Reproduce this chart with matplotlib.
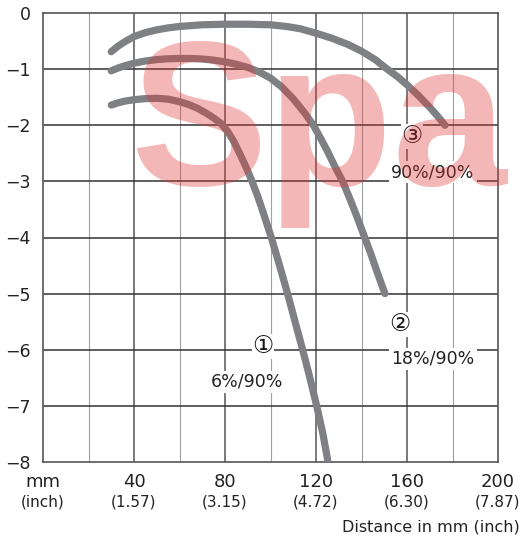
import matplotlib
matplotlib.use("Agg")
import matplotlib.pyplot as plt

# curve readings, distance in mm vs. value
c1_x = [30, 33, 36, 40, 45, 50, 55, 60, 64, 68, 72, 75, 78, 81, 84, 87, 89.5, 92,
        94.5, 97, 100.5, 104, 107.5, 111, 114, 117, 120.3, 123, 125.2]
c1_y = [-1.64, -1.60, -1.57, -1.545, -1.525, -1.52, -1.535, -1.58, -1.63, -1.70,
        -1.79, -1.87, -1.96, -2.10, -2.30, -2.55, -2.77, -3.01, -3.28, -3.58, -4.02,
        -4.5, -5.0, -5.53, -5.98, -6.45, -7.0, -7.49, -7.98]

c2_x = [30, 33, 36, 40, 45, 50, 55, 60, 65, 70, 75, 80, 85, 90, 95, 100, 105, 110,
        115, 119, 122, 125, 128, 131.7, 135, 138, 141.5, 144, 147, 150.3]
c2_y = [-1.03, -0.98, -0.94, -0.895, -0.855, -0.83, -0.815, -0.81, -0.81, -0.82,
        -0.84, -0.87, -0.915, -0.97, -1.05, -1.16, -1.32, -1.53, -1.78, -2.01, -2.23,
        -2.46, -2.71, -3.0, -3.32, -3.63, -4.01, -4.28, -4.63, -5.0]

c3_x = [30, 33, 36, 40, 45, 50, 55, 60, 70, 80, 90, 100, 107, 113, 120, 127, 134,
        140, 146, 151, 156, 160, 165, 170, 173.5, 176.7]
c3_y = [-0.69, -0.59, -0.51, -0.42, -0.35, -0.30, -0.265, -0.24, -0.21, -0.2, -0.2,
        -0.21, -0.24, -0.28, -0.36, -0.45, -0.56, -0.68, -0.83, -0.99, -1.14, -1.28,
        -1.47, -1.68, -1.84, -2.0]

mm_ticks = [0, 40, 80, 120, 160, 200]
mm_labels = ["mm", "40", "80", "120", "160", "200"]
inch_labels = ["(inch)", "(1.57)", "(3.15)", "(4.72)", "(6.30)", "(7.87)"]
y_ticks = [0, -1, -2, -3, -4, -5, -6, -7, -8]

curve_marks = ["\u2460", "\u2461", "\u2462"]
curve_names = ["6%/90%", "18%/90%", "90%/90%"]
mark_pos = [(96.7, -5.94), (157, -5.55), (162, -2.2)]
name_pos = [(89.6, -6.57), (171.4, -6.16), (171.4, -2.84)]

plt.rcParams["font.family"] = ["DejaVu Sans"]

fig = plt.figure(figsize=(5.25, 5.43), dpi=100)
ax = fig.add_axes([43 / 525, 1 - 462 / 543, 455 / 525, 449 / 543])

ax.set_xlim(0, 200)
ax.set_ylim(-8, 0)

# grid: light minor verticals, darker major ones, dark horizontals
for x in range(20, 200, 40):
    ax.axvline(x, color="#a0a0a0", lw=0.8, zorder=1)
for x in range(40, 200, 40):
    ax.axvline(x, color="#555555", lw=1.1, zorder=1)
for y in y_ticks[1:-1]:
    ax.axhline(y, color="#333333", lw=1.1, zorder=1)

for s in ax.spines.values():
    s.set_color("#555555")
    s.set_linewidth(1.2)

line_color = "#7f8084"
for xs, ys in [(c1_x, c1_y), (c2_x, c2_y), (c3_x, c3_y)]:
    ax.plot(xs, ys, color=line_color, lw=5.2, solid_capstyle="round",
            solid_joinstyle="round", zorder=3)

for m, (mx, my) in zip(curve_marks, mark_pos):
    ax.text(mx, my, m, ha="center", va="center", fontsize=17, color="#1a1a1a",
            family=["DejaVu Sans", "Noto Sans CJK JP"], zorder=4,
            bbox=dict(facecolor="white", edgecolor="none", pad=0.3))
for n, (nx, ny) in zip(curve_names, name_pos):
    ax.text(nx, ny, n, ha="center", va="center", fontsize=12.5, color="#222222",
            zorder=4, bbox=dict(facecolor="white", edgecolor="none", pad=1.5))

ax.set_yticks(y_ticks)
ax.set_yticklabels(["0"] + ["\u2212%d" % -v for v in y_ticks[1:]], fontsize=12.5,
                   color="#222222")
ax.tick_params(axis="y", length=0, pad=9)
ax.set_xticks(mm_ticks)
ax.set_xticklabels([])
ax.tick_params(axis="x", length=0)

tr = ax.get_xaxis_transform()
for x, a, b in zip(mm_ticks, mm_labels, inch_labels):
    ax.text(x, -0.045, a, transform=tr, ha="center", va="center", fontsize=13,
            color="#222222")
    ax.text(x, -0.09, b, transform=tr, ha="center", va="center", fontsize=11,
            color="#222222")

ax.text(1.048, -0.145, "Distance in mm (inch)", transform=ax.transAxes,
        ha="right", va="center", fontsize=11.5, color="#222222")

# watermark on top
fig.text(130 / 525, 1 - 185 / 543, "Spa", family="Liberation Sans",
         fontweight="bold", fontsize=148, color=(0.88, 0.2, 0.2), alpha=0.35,
         ha="left", va="baseline", zorder=10)

fig.savefig("out.png", dpi=100)
